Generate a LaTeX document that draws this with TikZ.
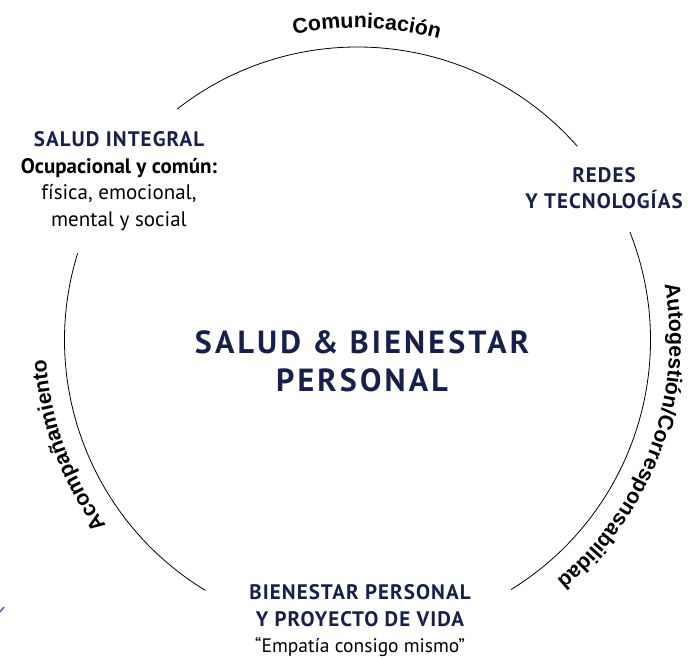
\documentclass[tikz,border=0pt]{standalone}
\usepackage{fontspec}
\usetikzlibrary{decorations.text}
\newfontfamily\labelfont{PT Sans}
\newfontfamily\capsfont{PT Sans}[LetterSpace=5]
\newfontfamily\titlefont{PT Sans}[LetterSpace=10]
\newfontfamily\curvefont{Liberation Sans}
\definecolor{azul}{HTML}{16204A}
\definecolor{lila}{HTML}{7A4FB8}
\tikzset{
  anillo/.style={draw=black, line width=0.8pt},
  bloque/.style={align=center, inner sep=0pt, font=\labelfont\fontsize{21}{26.5}\selectfont},
  mayus/.style={text=azul, font=\capsfont\bfseries\fontsize{21}{26.5}\selectfont},
  titulo/.style={align=center, inner sep=0pt, text=azul, font=\titlefont\bfseries\fontsize{32}{38}\selectfont},
  curva/.style={decorate, decoration={text along path, text align=center,
    text={|\curvefont\bfseries\fontsize{21.3}{21}\selectfont|#1}}}
}
\begin{document}
\begin{tikzpicture}[x=1pt, y=1pt]
  \useasboundingbox (0,0) rectangle (688,658);
  % Nodos
  \coordinate (o) at (357.5,318);
  \node[titulo] (centro) at (362,297) {SALUD \& BIENESTAR\\PERSONAL};
  \node[bloque] (salud) at (119,477)
    {{\color{azul}\capsfont\bfseries SALUD INTEGRAL}\\{\bfseries Ocupacional y común:}\\física, emocional,\\mental y social};
  \node[bloque, mayus] (redes) at (604,470) {REDES\\Y TECNOLOGÍAS};
  \node[bloque] (bienestar) at (360,37)
    {{\color{azul}\capsfont\bfseries BIENESTAR PERSONAL}\\{\color{azul}\capsfont\bfseries Y PROYECTO DE VIDA}\\{\fontsize{19.5}{25}\selectfont“Empatía consigo mismo”}};

  % Anillo
  \draw[anillo] (o) ++(41.4:293) arc[start angle=41.4, end angle=128, radius=293];
  \draw[anillo] (o) ++(162.8:293) arc[start angle=162.8, end angle=238.7, radius=293];
  \draw[anillo] (o) ++(-58.4:293) arc[start angle=-58.4, end angle=21.6, radius=293];

  % Textos curvos
  \path[curva=Comunicación] (o) ++(128.3:312) arc[start angle=128.3, end angle=48.3, radius=312];
  \path[curva=Autogestión/Corresponsabilidad] (o) ++(20:312) arc[start angle=20, end angle=-60, radius=312];
  \path[curva=Acompañamiento] (o) ++(240:312) arc[start angle=240, end angle=160, radius=312];

  \coordinate (m1) at (0,46);
  \coordinate (m2) at (4,51);
  \draw[lila, line width=1.5pt] (m1) -- (m2);
\end{tikzpicture}
\end{document}
